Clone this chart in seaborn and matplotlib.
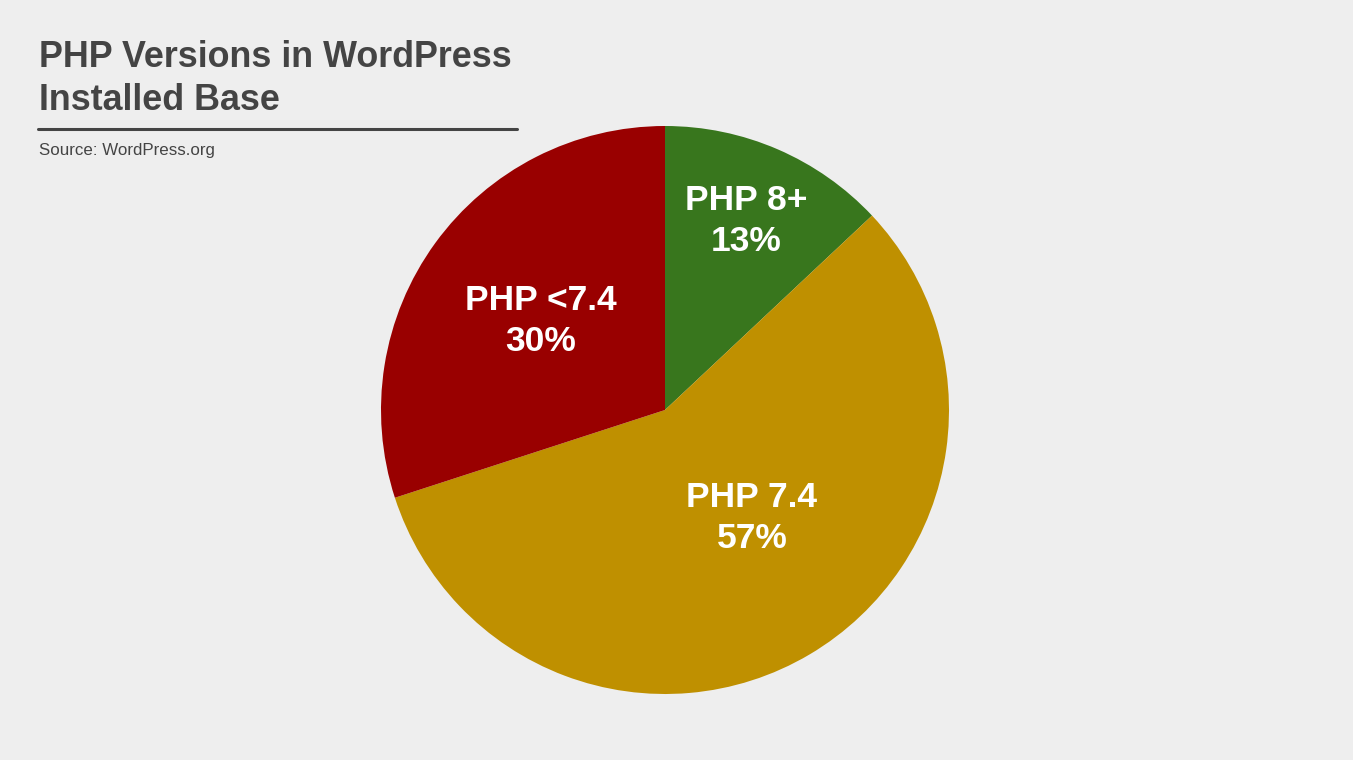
import matplotlib
import matplotlib.pyplot as plt
import seaborn as sns

matplotlib.use("Agg")

versions = ["PHP 8+", "PHP 7.4", "PHP <7.4"]
shares = [13, 57, 30]
colors = ["#38761d", "#bf9000", "#990000"]

# label anchor points inside each wedge (axes data units, pie radius = 1)
label_xy = [(0.285, 0.667), (0.306, -0.380), (-0.437, 0.313)]

BG = "#eeeeee"
INK = "#444444"


def main() -> None:
    sns.set_theme(style="white")
    plt.rcParams["font.family"] = ["Liberation Sans", "DejaVu Sans"]

    fig = plt.figure(figsize=(13.53, 7.6), dpi=100, facecolor=BG)
    ax = fig.add_axes([381 / 1353, 66 / 760, 568 / 1353, 568 / 760])
    ax.set_facecolor(BG)
    ax.pie(
        shares,
        colors=colors,
        startangle=90,
        counterclock=False,
        radius=1.0,
        wedgeprops={"linewidth": 0},
    )
    ax.set_xlim(-1, 1)
    ax.set_ylim(-1, 1)
    ax.set_aspect("equal")
    ax.axis("off")

    for name, share, (x, y) in zip(versions, shares, label_xy):
        ax.text(
            x, y, f"{name}\n{share}%",
            ha="center", va="center", color="white",
            fontsize=25.5, fontweight="bold", linespacing=1.31,
        )

    fig.text(39 / 1353, 1 - 79 / 760, "PHP Versions in WordPress\nInstalled Base",
             ha="left", va="center", color=INK, fontsize=25.8, fontweight="bold",
             linespacing=1.32)
    fig.add_artist(plt.Line2D([38 / 1353, 517 / 1353], [1 - 129 / 760, 1 - 129 / 760],
                              color=INK, linewidth=2.2))
    fig.text(39 / 1353, 1 - 151 / 760, "Source: WordPress.org",
             ha="left", va="center", color=INK, fontsize=12.2)

    fig.savefig("out.png", dpi=100, facecolor=BG)
    plt.close(fig)


if __name__ == "__main__":
    main()
